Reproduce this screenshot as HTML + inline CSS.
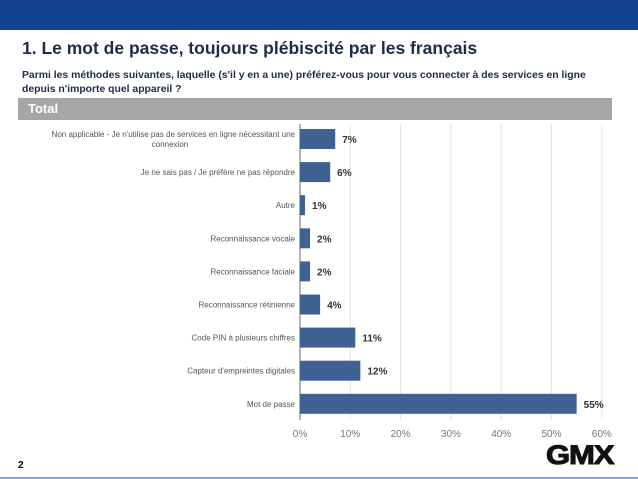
<!DOCTYPE html>
<html><head><meta charset="utf-8"><style>
body{margin:0;width:638px;height:479px;overflow:hidden;background:#fff;font-family:"Liberation Sans",sans-serif;position:relative}
.a{position:absolute}
</style></head><body>
<div class="a" style="left:0;top:0;width:638px;height:30px;background:#12408f"></div>
<div class="a" style="left:22px;top:38px;font-size:17.5px;font-weight:bold;color:#1c2c4c">1. Le mot de passe, toujours plébiscité par les français</div>
<div class="a" style="left:22px;top:69px;width:600px;font-size:10.4px;font-weight:bold;color:#1c2c4c;line-height:14px">Parmi les méthodes suivantes, laquelle (s'il y en a une) préférez-vous pour vous connecter à des services en ligne<br>depuis n'importe quel appareil ?</div>
<div class="a" style="left:18px;top:98px;width:594px;height:22px;background:#a6a6a6;color:#fff;font-weight:bold;font-size:13px;line-height:22px;text-indent:10px">Total</div>
<svg class="a" style="left:0;top:0" width="638" height="479" id="chart"></svg>
<div class="a" style="left:18px;top:460px;font-size:10px;font-weight:bold">2</div>
<div class="a" style="left:546px;top:440px;font-size:27px;font-weight:900;letter-spacing:-1px;color:#111;transform:scaleX(1.15);transform-origin:left;-webkit-text-stroke:1px #111">GMX</div>
<div class="a" style="left:0;top:477px;width:638px;height:2px;background:#8aa6cf"></div>
<script>
const categories=["Non applicable - Je n'utilise pas de services en ligne nécessitant une|connexion","Je ne sais pas / Je préfère ne pas répondre","Autre","Reconnaissance vocale","Reconnaissance faciale","Reconnaissance rétinienne","Code PIN à plusieurs chiffres","Capteur d'empreintes digitales","Mot de passe"];
const values=[7,6,1,2,2,4,11,12,55];
const ticks=[0,10,20,30,40,50,60];
const svg=document.getElementById('chart');
const NS='http://www.w3.org/2000/svg';
const x=v=>300+v*5.03;
const y=i=>139+i*33.1;
function mk(t,a){const e=document.createElementNS(NS,t);for(const k in a)e.setAttribute(k,a[k]);svg.appendChild(e);return e;}
ticks.forEach(t=>{
 const l=mk('line',{x1:x(t),x2:x(t),y1:124,y2:420,stroke:'#e3e3e3','stroke-width':1});
 
 
 const tx=mk('text',{x:x(t),y:437,'font-size':10,fill:'#777','text-anchor':'middle'});tx.textContent=t+'%';
 
 
});
const ax=mk('line',{x1:300,x2:300,y1:124,y2:420,stroke:'#666','stroke-width':1});


categories.forEach((c,i)=>{
 const r=mk('rect',{x:300,y:y(i)-10,width:x(values[i])-300,height:20,fill:'#3e6393'});
 
 
 const v=mk('text',{x:x(values[i])+7,y:y(i)+4,'font-size':10,'font-weight':'bold',fill:'#333'});v.textContent=values[i]+'%';
 
 
 const parts=c.split('|');
 parts.forEach((p,j)=>{
  const t=mk('text',{x:parts.length>1&&j==1?170:295,y:y(i)+3-(parts.length-1)*5+j*10,'font-size':8,fill:'#555','text-anchor':parts.length>1&&j==1?'middle':'end'});t.textContent=p;
  
  
 });
});
</script>
</body></html>
